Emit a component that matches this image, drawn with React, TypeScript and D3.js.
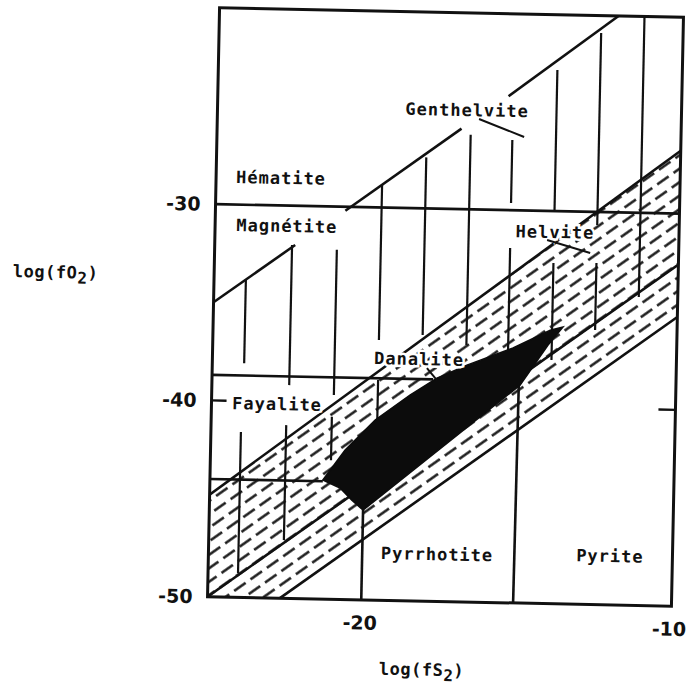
import * as d3 from "d3";

// log(fS2) / log(fO2) phase diagram (Fe-O-S with Be-silicate fields)
const W = 688;
const H = 690;
const FRAME = { left: 213.5, right: 677.5, top: 12.5, bottom: 601.5 };
const TILT = 1.17; // the scan is slightly tilted
const CX = 445.5;
const CY = 307;

const xDomain = [-25, -10];
const yDomain = [-50, -20];
const xTicks = [-20, -10];
const yTicks = [-30, -40, -50];
const innerTicks = [-40];

// Fe oxide / sulfide boundaries, [log fS2, log fO2]
const hematiteMagnetite = [[-25, -30], [-10, -30]];
const magnetiteFayalite = [[-25, -38.7], [-17.85, -38.7]];
const fayalitePyrrhotite = [[-25, -44], [-21.35, -44]];
const pyrrhotiteLeft = [[-20.03, -50], [-20.03, -45.4]];
const pyrrhotitePyrite = [[-15.12, -50], [-15.08, -38.9]];

// upper genthelvite limit, broken where labels sit
const genthelviteTop = [
  [[-25, -35], [-22.4, -32]],
  [[-20.8, -30.2], [-17.1, -25.9]],
  [[-15.6, -24.2], [-12.1, -20]],
];

// helvite band limits
const helviteUpper = [[-25, -44.8], [-10, -26.8]];
const helviteMid = [[-25, -50], [-10, -32.6]];
const helviteLower = [[-22.66, -50], [-10, -35.27]];

// danalite field (black)
const danalite = [
  [-21.35, -43.94], [-20.79, -44.33], [-20.4, -44.93], [-20.03, -45.43],
  [-15.04, -38.9], [-14.16, -36.83], [-13.69, -35.9], [-14.1, -36.07],
  [-15.29, -37.02], [-16.77, -37.94], [-17.73, -38.63], [-18.59, -39.52],
  [-19.7, -40.83], [-20.65, -42.39],
];

// genthelvite vertical hatching: [log fS2, top, bottom]
const genthelviteHatch = [
  [-23.97, -33.8, -38.07],
  [-22.5, -32.0, -39.14],
  [-21.05, -32.2, -39.6],
  [-19.63, -28.8, -36.75],
  [-18.22, -27.4, -36.45],
  [-16.8, -26.2, -36.92],
  [-15.45, -26.43, -29.64],
  [-15.45, -31.93, -37.13],
  [-14.04, -22.81, -29.95],
  [-14.04, -32.65, -37.59],
  [-12.65, -20.88, -30.67],
  [-12.65, -32.6, -36.02],
  [-11.26, -20, -34.29],
  [-24.03, -41.58, -48.77],
  [-22.57, -41.18, -47.04],
  [-21.1, -40.71, -42.92],
  [-19.63, -38.79, -40.83],
];

const fieldLabels = ["Hématite", "Magnétite", "Genthelvite", "Helvite", "Danalite", "Fayalite", "Pyrrhotite", "Pyrite"];
const labelS2 = [-22.9, -22.68, -16.93, -14.01, -18.32, -22.88, -17.61, -12.02];
const labelO2 = [-28.6, -31.04, -24.95, -31.07, -37.68, -40.12, -47.6, -47.51];

// leader lines from labels
const leaders = [
  [[-16.54, -25.39], [-15.07, -26.26]],
  [[-14.26, -31.48], [-12.86, -32.1]],
  [[-18.06, -38.13], [-17.73, -38.73]],
];

const FONT = "'DejaVu Sans Mono', monospace";

export default function App() {
  const x = d3.scaleLinear().domain(xDomain).range([FRAME.left, FRAME.right]);
  const y = d3.scaleLinear().domain(yDomain).range([FRAME.bottom, FRAME.top]);
  const line = d3
    .line<number[]>()
    .x((d) => x(d[0]))
    .y((d) => y(d[1]));

  const band = [
    helviteUpper[0],
    helviteUpper[1],
    helviteLower[1],
    helviteLower[0],
    helviteMid[0],
  ];

  const solid = [
    hematiteMagnetite,
    magnetiteFayalite,
    fayalitePyrrhotite,
    pyrrhotiteLeft,
    pyrrhotitePyrite,
    helviteUpper,
    helviteMid,
    helviteLower,
    ...genthelviteTop,
  ];

  return (
    <svg
      width={W}
      height={H}
      style={{ position: "absolute", left: 0, top: 0, background: "#fff" }}
    >
      <defs>
        <pattern
          id="dash"
          patternUnits="userSpaceOnUse"
          width={20}
          height={22}
          patternTransform="rotate(-36.4)"
        >
          <line x1={0} y1={5.5} x2={14} y2={5.5} stroke="#111" strokeWidth={2.4} />
          <line x1={10} y1={16.5} x2={20} y2={16.5} stroke="#111" strokeWidth={2.4} />
          <line x1={0} y1={16.5} x2={4} y2={16.5} stroke="#111" strokeWidth={2.4} />
        </pattern>
        <clipPath id="frame">
          <rect
            x={FRAME.left}
            y={FRAME.top}
            width={FRAME.right - FRAME.left}
            height={FRAME.bottom - FRAME.top}
          />
        </clipPath>
      </defs>
      <g transform={`rotate(${TILT} ${CX} ${CY})`}>
        <g clipPath="url(#frame)">
          <path d={line(band) + "Z"} fill="url(#dash)" />
          {genthelviteHatch.map((h, i) => (
            <line
              key={i}
              x1={x(h[0])}
              x2={x(h[0])}
              y1={y(h[1])}
              y2={y(h[2])}
              stroke="#111"
              strokeWidth={2.2}
            />
          ))}
          {solid.map((s, i) => (
            <path key={i} d={line(s) || ""} fill="none" stroke="#111" strokeWidth={2.6} />
          ))}
          <path d={line(danalite) + "Z"} fill="#0c0c0c" stroke="#0c0c0c" strokeWidth={1.5} />
        </g>
        <rect
          x={FRAME.left}
          y={FRAME.top}
          width={FRAME.right - FRAME.left}
          height={FRAME.bottom - FRAME.top}
          fill="none"
          stroke="#111"
          strokeWidth={3}
        />
        {innerTicks.map((t) => (
          <g key={t}>
            <line x1={FRAME.left} x2={FRAME.left + 15} y1={y(t)} y2={y(t)} stroke="#111" strokeWidth={2.4} />
            <line x1={FRAME.right - 17} x2={FRAME.right} y1={y(t)} y2={y(t)} stroke="#111" strokeWidth={2.4} />
          </g>
        ))}
        {fieldLabels.map((t, i) => (
          <text
            key={t}
            x={x(labelS2[i])}
            y={y(labelO2[i])}
            dy="0.35em"
            textAnchor="middle"
            fontFamily={FONT}
            fontWeight="bold"
            fontSize={17}
            letterSpacing={1}
            fill="#111"
            stroke="#fff"
            strokeWidth={5}
            paintOrder="stroke"
          >
            {t}
          </text>
        ))}
        {leaders.map((s, i) => (
          <path key={i} d={line(s) || ""} fill="none" stroke="#111" strokeWidth={2} />
        ))}
        {yTicks.map((t) => (
          <text
            key={t}
            x={FRAME.left - 15}
            y={y(t)}
            dy="0.35em"
            textAnchor="end"
            fontFamily="'DejaVu Sans', sans-serif"
            fontWeight="bold"
            fontSize={19}
            fill="#111"
          >
            {t}
          </text>
        ))}
        {xTicks.map((t) => (
          <text
            key={t}
            x={x(t) - 2}
            y={FRAME.bottom + 23}
            dy="0.35em"
            textAnchor="middle"
            fontFamily="'DejaVu Sans', sans-serif"
            fontWeight="bold"
            fontSize={19}
            fill="#111"
          >
            {t}
          </text>
        ))}
        <text x={55} y={280} dy="0.35em" textAnchor="middle" fontFamily={FONT} fontWeight="bold" fontSize={17} letterSpacing={0.5} fill="#111">
          log(fO<tspan dy={5} fontSize={16}>2</tspan><tspan dy={-5}>)</tspan>
        </text>
        <text x={429} y={670} dy="0.35em" textAnchor="middle" fontFamily={FONT} fontWeight="bold" fontSize={17} letterSpacing={0.5} fill="#111">
          log(fS<tspan dy={5} fontSize={16}>2</tspan><tspan dy={-5}>)</tspan>
        </text>
      </g>
    </svg>
  );
}
